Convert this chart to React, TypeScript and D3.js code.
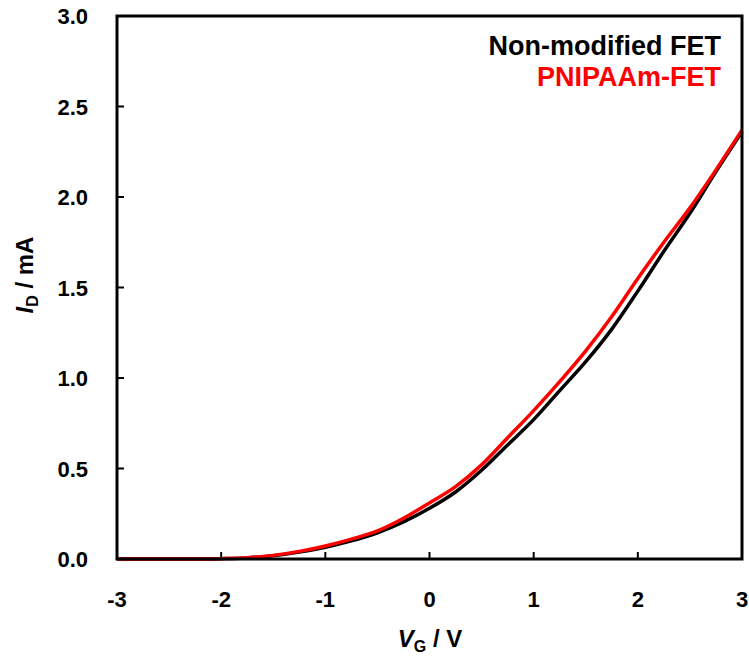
import React from 'react';
import * as d3 from 'd3';

const width = 749;
const height = 657;
const margin = { left: 117, right: 7, top: 16, bottom: 98 };

// gate voltage (V)
const vg = [-3, -2.75, -2.5, -2.25, -2, -1.75, -1.5, -1.25, -1, -0.75, -0.5, -0.25, 0,
  0.25, 0.5, 0.75, 1, 1.25, 1.5, 1.75, 2, 2.25, 2.5, 2.75, 3];
// drain current (mA)
const nonModified = [0, 0, 0, 0, 0.002, 0.006, 0.018, 0.038, 0.065, 0.1, 0.145, 0.205, 0.28,
  0.37, 0.49, 0.63, 0.77, 0.93, 1.09, 1.27, 1.48, 1.7, 1.91, 2.14, 2.36];
const pnipaam = [0, 0, 0, 0, 0.002, 0.007, 0.02, 0.042, 0.072, 0.11, 0.155, 0.225, 0.31,
  0.4, 0.52, 0.67, 0.82, 0.98, 1.15, 1.34, 1.55, 1.75, 1.94, 2.15, 2.37];

const xTicks = [-3, -2, -1, 0, 1, 2, 3];
const yTicks = [0, 0.5, 1.0, 1.5, 2.0, 2.5, 3.0];

const series = [
  { name: 'Non-modified FET', values: nonModified, color: '#000000' },
  { name: 'PNIPAAm-FET', values: pnipaam, color: '#ff0000' }
];

const font = '"Liberation Sans", Arial, sans-serif';

export default function App() {
  const x = d3.scaleLinear().domain([-3, 3]).range([margin.left, width - margin.right]);
  const y = d3.scaleLinear().domain([0, 3]).range([height - margin.bottom, margin.top]);

  const line = d3
    .line<number>()
    .x((_, i) => x(vg[i]))
    .y(d => y(d))
    .curve(d3.curveMonotoneX);

  const x0 = x(-3);
  const x1 = x(3);
  const y0 = y(0);
  const y1 = y(3);

  return (
    <svg width={width} height={height} style={{ position: 'absolute', left: 0, top: 0 }}>
      <g fontFamily={font} fontWeight="bold">
        {series.map(s => (
          <path key={s.name} d={line(s.values) || ''} fill="none" stroke={s.color} strokeWidth={3.5} />
        ))}

        {/* frame */}
        <rect x={x0} y={y1} width={x1 - x0} height={y0 - y1} fill="none" stroke="#000" strokeWidth={3} />

        {xTicks.map(t => (
          <g key={'x' + t}>
            <line x1={x(t)} x2={x(t)} y1={y0} y2={y0 - 7} stroke="#000" strokeWidth={2} />
            <text x={x(t)} y={607} textAnchor="middle" fontSize={22}>{t}</text>
          </g>
        ))}
        {yTicks.map(t => (
          <g key={'y' + t}>
            <line x1={x0} x2={x0 + 7} y1={y(t)} y2={y(t)} stroke="#000" strokeWidth={2} />
            <text x={88} y={y(t) + 8} textAnchor="end" fontSize={22}>{t.toFixed(1)}</text>
          </g>
        ))}

        <text x={430} y={647} textAnchor="middle" fontSize={24}>
          <tspan fontStyle="italic">V</tspan>
          <tspan fontSize={16} dy={5}>G</tspan>
          <tspan dy={-5}> / V</tspan>
        </text>
        <text transform="translate(33,275) rotate(-90)" textAnchor="middle" fontSize={24}>
          <tspan fontStyle="italic">I</tspan>
          <tspan fontSize={16} dy={5}>D</tspan>
          <tspan dy={-5}> / mA</tspan>
        </text>

        {series.map((s, i) => (
          <text key={'l' + s.name} x={721} y={55 + i * 31} textAnchor="end" fontSize={27} fill={s.color}>
            {s.name}
          </text>
        ))}
      </g>
    </svg>
  );
}
